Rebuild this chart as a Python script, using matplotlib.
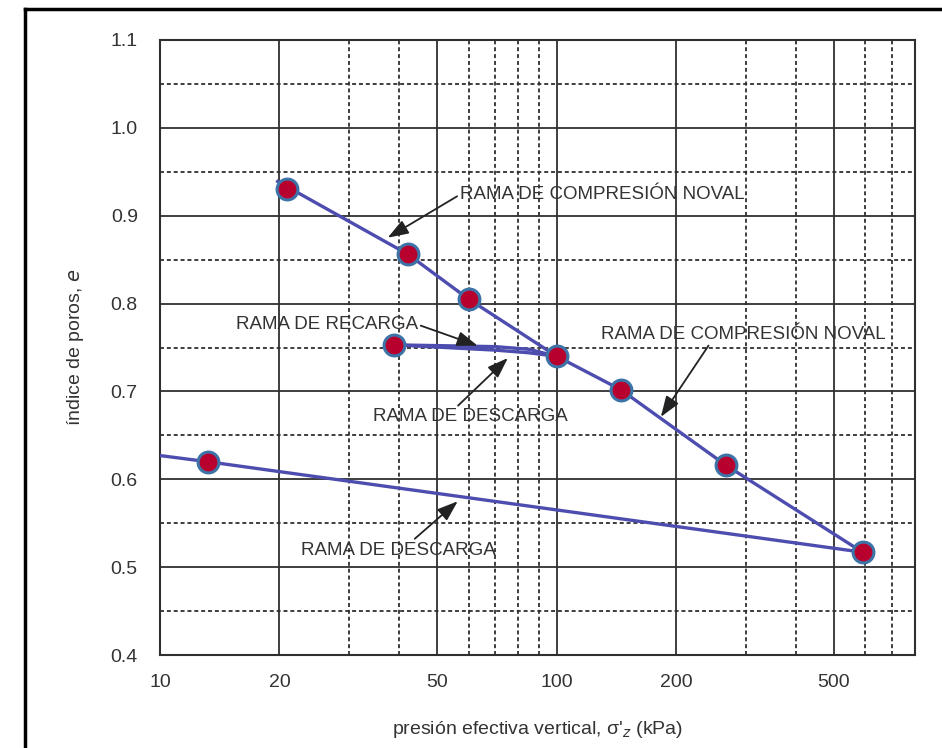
import matplotlib.pyplot as plt
from matplotlib.lines import Line2D
from matplotlib.ticker import FixedLocator, NullFormatter

# measured points (sigma'_z in kPa, void ratio e)
sigma_pts = [20.9, 42.2, 60.0, 100.0, 145.0, 267.0, 590.0, 39.0, 13.2]
e_pts     = [0.930, 0.856, 0.805, 0.740, 0.702, 0.616, 0.517, 0.753, 0.620]

# branches drawn as lines
virgin_sigma = [19.8, 42.2, 60.0, 100.0, 145.0, 267.0, 590.0]
virgin_e     = [0.939, 0.856, 0.805, 0.740, 0.702, 0.616, 0.517]

reload_sigma = [39.0, 70.0, 85.0, 100.0]
reload_e     = [0.753, 0.751, 0.748, 0.740]
unload1_sigma = [100.0, 85.0, 70.0, 39.0]
unload1_e     = [0.740, 0.744, 0.747, 0.753]

unload2_sigma = [590.0, 13.2, 10.0]
unload2_e     = [0.517, 0.620, 0.627]

xticks = [10, 20, 50, 100, 200, 500]
xminor = [30, 40, 60, 70, 80, 90, 300, 400, 600, 700]
yticks = [0.4, 0.5, 0.6, 0.7, 0.8, 0.9, 1.0, 1.1]
yminor = [0.45, 0.55, 0.65, 0.75, 0.85, 0.95, 1.05]

plt.rcParams['font.family'] = ['Liberation Sans Narrow', 'Liberation Sans', 'DejaVu Sans']

txt_col = '#333333'
line_col = '#4d4db0'

fig = plt.figure(figsize=(9.42, 7.48), dpi=100)
ax = fig.add_axes([160/942, 1 - 655/748, 755/942, 615/748])

ax.set_xscale('log')
ax.set_xlim(10, 800)
ax.set_ylim(0.4, 1.1)

ax.xaxis.set_major_locator(FixedLocator(xticks))
ax.xaxis.set_minor_locator(FixedLocator(xminor))
ax.xaxis.set_minor_formatter(NullFormatter())
ax.set_xticklabels([str(v) for v in xticks])
ax.yaxis.set_major_locator(FixedLocator(yticks))
ax.yaxis.set_minor_locator(FixedLocator(yminor))
ax.set_yticklabels(['%.1f' % v for v in yticks])

ax.tick_params(which='both', length=0)
ax.tick_params(axis='x', pad=14, labelsize=14, labelcolor=txt_col)
ax.tick_params(axis='y', pad=16, labelsize=14, labelcolor=txt_col)

ax.grid(which='major', color='#2f2f2f', lw=1.3, ls='-')
ax.grid(which='minor', color='#2f2f2f', lw=1.3, ls=(0, (2.2, 1.6)))
ax.set_axisbelow(True)
for s in ax.spines.values():
    s.set_color('#2f2f2f')
    s.set_linewidth(1.5)

# branches
ax.plot(virgin_sigma, virgin_e, color=line_col, lw=2.4, zorder=3)
ax.plot(reload_sigma, reload_e, color=line_col, lw=2.4, zorder=3)
ax.plot(unload1_sigma, unload1_e, color=line_col, lw=2.4, zorder=3)
ax.plot(unload2_sigma, unload2_e, color=line_col, lw=2.4, zorder=3)

# points
ax.plot(sigma_pts, e_pts, 'o', ms=15, mfc='#b8002e', mec='#3d74a8', mew=2.2,
        ls='none', zorder=4)

# annotations
arr = dict(arrowstyle='-|>,head_length=0.7,head_width=0.25', color='#222222',
           lw=1.3, mutation_scale=18, shrinkA=0, shrinkB=0)
tkw = dict(fontsize=13.5, color=txt_col, va='center')

ax.annotate('RAMA DE COMPRESIÓN NOVAL', xy=(37.5, 0.875), xytext=(57.0, 0.924),
            ha='left', arrowprops=dict(arr, relpos=(0, 0.5)), **tkw)
ax.annotate('RAMA DE RECARGA', xy=(63.2, 0.752), xytext=(44.7, 0.776),
            ha='right', arrowprops=dict(arr, relpos=(1, 0.5)), **tkw)
ax.annotate('RAMA DE DESCARGA', xy=(75.3, 0.738), xytext=(60.7, 0.671),
            ha='center', arrowprops=dict(arr, relpos=(0.42, 1)), **tkw)
ax.annotate('RAMA DE COMPRESIÓN NOVAL', xy=(183, 0.671), xytext=(295, 0.765),
            ha='center', arrowprops=dict(arr, relpos=(0.385, 0)), **tkw)
ax.annotate('RAMA DE DESCARGA', xy=(56.3, 0.575), xytext=(39.8, 0.5195),
            ha='center', arrowprops=dict(arr, relpos=(0.57, 1)), **tkw)

ax.set_xlabel("presión efectiva vertical, σ'$_z$ (kPa)", fontsize=14,
              color=txt_col, labelpad=20)
ax.set_ylabel('índice de poros, $e$', fontsize=14, color=txt_col, labelpad=18)

# outer frame of the original figure
fig.add_artist(Line2D([25/942, 1], [1 - 9/748, 1 - 9/748],
                      transform=fig.transFigure, color='black', lw=2.5))
fig.add_artist(Line2D([25/942, 25/942], [0, 1 - 9/748],
                      transform=fig.transFigure, color='black', lw=2.5))

fig.savefig('out.png', dpi=100)
